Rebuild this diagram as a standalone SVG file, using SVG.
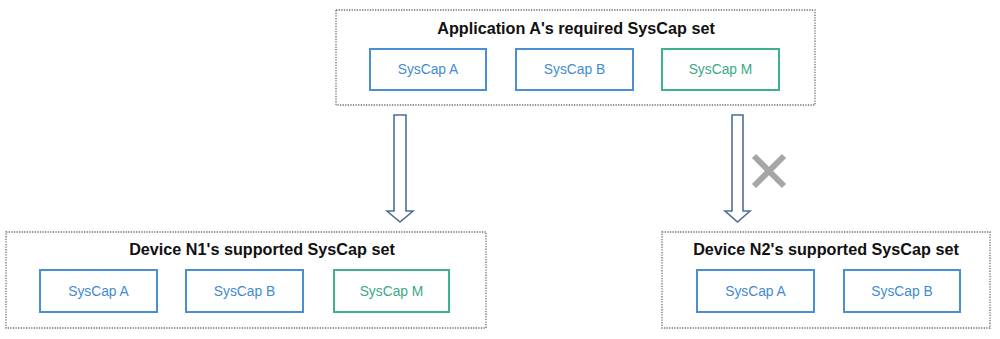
<svg xmlns="http://www.w3.org/2000/svg" width="1000" height="339" viewBox="0 0 1000 339">
<style>
.set{fill:#fff;stroke:#6e6e6e;stroke-width:1.3;stroke-dasharray:1.3 1.3}
.title{font-family:"Liberation Sans",Arial,sans-serif;font-weight:bold;font-size:16.2px;fill:#111;text-anchor:middle}
.cap{fill:#fff;stroke-width:2}
.blue{stroke:#4a8fd6}
.green{stroke:#3fb190}
.lbl{font-family:"Liberation Sans",Arial,sans-serif;font-size:13.8px;text-anchor:middle;dominant-baseline:central}
.tb{fill:#3f8bd3}
.tg{fill:#3aa886}
.arrow{fill:#fff;stroke:#4e6f98;stroke-width:1.6;stroke-linejoin:miter}
</style>
<rect width="1000" height="339" fill="#fff"/>
<g id="app">
<rect class="set" x="336" y="10" width="479" height="95"/>
<text class="title" x="576" y="34">Application A's required SysCap set</text>
<rect class="cap blue" x="370" y="49" width="116" height="41"/>
<text class="lbl tb" x="428" y="69.5">SysCap A</text>
<rect class="cap blue" x="516" y="49" width="117" height="41"/>
<text class="lbl tb" x="574.5" y="69.5">SysCap B</text>
<rect class="cap green" x="662" y="49" width="117" height="41"/>
<text class="lbl tg" x="720.5" y="69.5">SysCap M</text>
</g>
<g id="devN1">
<rect class="set" x="6" y="232" width="480" height="96"/>
<text class="title" x="262" y="255">Device N1's supported SysCap set</text>
<rect class="cap blue" x="40" y="270" width="117" height="42"/>
<text class="lbl tb" x="98.5" y="291">SysCap A</text>
<rect class="cap blue" x="186" y="270" width="117" height="42"/>
<text class="lbl tb" x="244.5" y="291">SysCap B</text>
<rect class="cap green" x="334" y="270" width="115" height="42"/>
<text class="lbl tg" x="391.5" y="291">SysCap M</text>
</g>
<g id="devN2">
<rect class="set" x="662" y="232" width="328" height="96"/>
<text class="title" x="826" y="255">Device N2's supported SysCap set</text>
<rect class="cap blue" x="697" y="270" width="117" height="42"/>
<text class="lbl tb" x="755.5" y="291">SysCap A</text>
<rect class="cap blue" x="844" y="270" width="116" height="42"/>
<text class="lbl tb" x="902" y="291">SysCap B</text>
</g>
<g id="connectors">
<polygon class="arrow" points="394,115 406,115 406,211 413,211 400,222 387,211 394,211"/>
<polygon class="arrow" points="732,115 743,115 743,211 750,211 737.5,222 725,211 732,211"/>
<g stroke="#a6a6a6" stroke-width="6">
<line x1="754" y1="156" x2="784" y2="186"/>
<line x1="784" y1="156" x2="754" y2="186"/>
</g>
</g>
</svg>
